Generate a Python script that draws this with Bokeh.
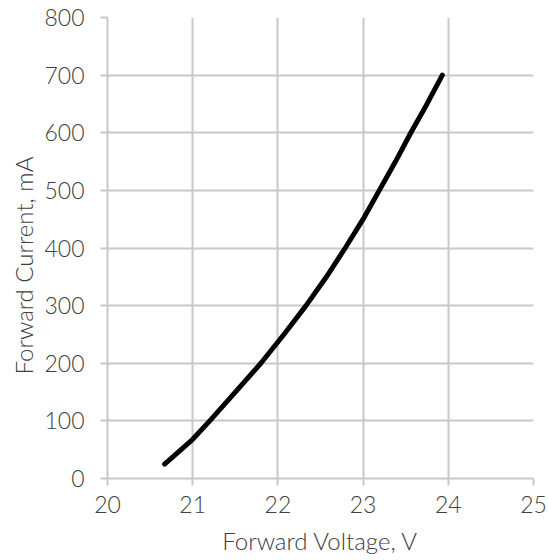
from bokeh.plotting import figure
from bokeh.models import FixedTicker, Range1d, Title
from bokeh.embed import file_html
from bokeh.resources import INLINE

voltage = [20.67, 21.0, 21.2, 21.5, 21.80, 22.07, 22.33, 22.57, 22.79,
           23.0, 23.19, 23.38, 23.56, 23.75, 23.93]
current = [25, 68, 100, 150, 200, 250, 300, 350, 400,
           450, 500, 550, 600, 650, 700]
x_ticks = [20, 21, 22, 23, 24, 25]
y_ticks = [0, 100, 200, 300, 400, 500, 600, 700, 800]
x_title = "Forward Voltage, V"
y_title = "Forward Current, mA"

FONT = "Lato Light"
GRID = "#c8c8c8"
TEXT = "#404040"

p = figure(width=548, height=560, output_backend="svg", toolbar_location=None,
           x_range=Range1d(20, 25), y_range=Range1d(0, 800),
           min_border_left=107, min_border_right=15, min_border_top=17, min_border_bottom=82)
p.outline_line_color = None
p.background_fill_color = "white"
p.border_fill_color = "white"

p.line(voltage, current, line_color="black", line_width=5, line_cap="round", line_join="round")

for ax in (p.xaxis[0], p.yaxis[0]):
    ax.axis_line_color = GRID
    ax.major_tick_line_color = GRID
    ax.major_tick_line_width = 2
    ax.axis_line_width = 2
    ax.major_tick_in = 0
    ax.major_tick_out = 7
    ax.minor_tick_line_color = None
    ax.major_label_text_font = FONT
    ax.major_label_text_font_size = "23px"
    ax.major_label_text_color = TEXT
    ax.axis_label_text_font = FONT
    ax.axis_label_text_font_size = "24px"
    ax.axis_label_text_font_style = "normal"
    ax.axis_label_text_color = TEXT

p.xaxis[0].ticker = FixedTicker(ticks=x_ticks)
p.yaxis[0].ticker = FixedTicker(ticks=y_ticks)
p.xaxis.axis_label = x_title
p.xaxis.major_label_standoff = 10
p.yaxis.major_label_standoff = 16
p.xaxis.axis_label_standoff = 10

ytitle = Title(text=y_title, align="left", offset=104, vertical_align="bottom",
               standoff=8, text_font=FONT, text_font_size="24px",
               text_font_style="normal", text_color=TEXT)
p.add_layout(ytitle, "left")

p.xgrid.ticker = FixedTicker(ticks=x_ticks)
p.ygrid.ticker = FixedTicker(ticks=y_ticks)
p.grid.grid_line_color = GRID
p.grid.grid_line_width = 2

open("out.html", "w").write(file_html(p, INLINE))
